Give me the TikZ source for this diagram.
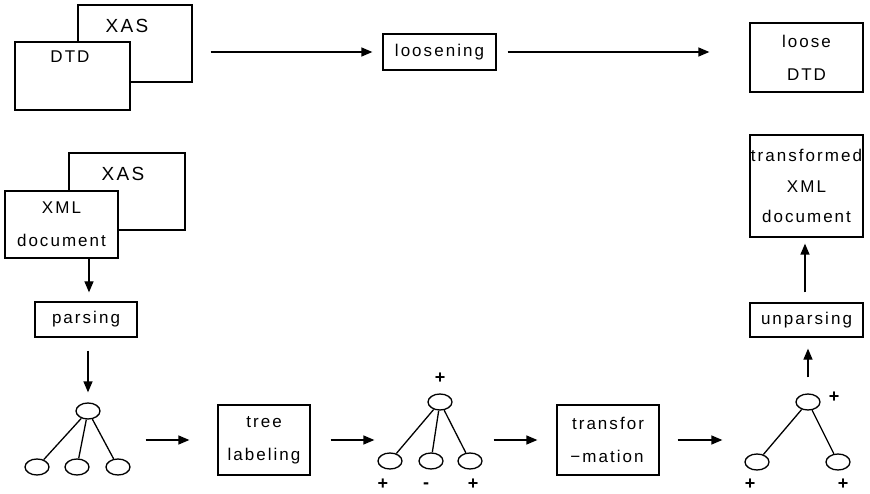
\documentclass[tikz,border=0pt]{standalone}
\usepackage{fontspec}
\setmainfont{Liberation Sans}[LetterSpace=12]
\usetikzlibrary{arrows.meta,shapes.geometric,calc}
\begin{document}
\begin{tikzpicture}[x=1pt,y=-1pt,
  box/.style={draw,line width=1.3pt,inner sep=0pt,align=center,font=\fontsize{17}{33}\selectfont},
  txt/.style={inner sep=0pt,font=\fontsize{17}{33}\selectfont},
  arr/.style={-{Triangle[length=11pt,width=9pt]},line width=1.3pt},
  nd/.style={draw,ellipse,line width=1.3pt,minimum width=24pt,minimum height=16pt,inner sep=0pt},
  edge/.style={line width=1.3pt},
  sg/.style={inner sep=0pt,font=\fontsize{18}{18}\selectfont\bfseries}]
\useasboundingbox (0,0) rectangle (870,494);
% top row
\node[box,minimum width=114pt,minimum height=77pt] (xasT) at (135,43.5) {};
\node[box,fill=white,minimum width=115pt,minimum height=68pt] (dtd) at (72.5,76) {};
\node[txt,font=\fontsize{19}{19}\selectfont] (xasTt) at (127,25.5) {XAS};
\node[txt] (dtdt) at (70,57) {DTD};
\node[box,minimum width=113pt,minimum height=36pt] (loos) at (439.5,52) {loosening};
\node[box,minimum width=113pt,minimum height=69pt] (ldtd) at (806.5,57.5) {loose\\DTD};
% lower left
\node[box,minimum width=116pt,minimum height=77pt] (xasB) at (127,191.5) {};
\node[box,fill=white,minimum width=113pt,minimum height=67pt] (xml) at (61.5,224.5) {XML\\document};
\node[txt,font=\fontsize{19}{19}\selectfont] (xasBt) at (123,174) {XAS};
\node[box,minimum width=102pt,minimum height=35pt] (pars) at (86,319.5) {parsing};
% bottom boxes
\node[box,minimum width=92pt,minimum height=70pt] (tlab) at (264,440) {tree\\labeling};
\node[box,minimum width=102pt,minimum height=70pt] (tran) at (608,440) {transfor\\\kern-2pt\textminus mation};
% right column
\node[box,minimum width=113pt,minimum height=34pt] (unp) at (806.5,320) {unparsing};
\node[box,minimum width=113pt,minimum height=102pt,font=\fontsize{17}{30.5}\selectfont] (txml) at (806.5,186) {transformed\\XML\\document};
% tree 1
\node[nd] (r1) at (88,411) {};
\node[nd] (l11) at (37,467) {};
\node[nd] (l12) at (77,467) {};
\node[nd] (l13) at (118,467) {};
\draw[edge] (r1) -- (l11);
\draw[edge] (r1) -- (l12);
\draw[edge] (r1) -- (l13);
% tree 2
\node[nd] (r2) at (440,402) {};
\node[nd] (l21) at (390,461) {};
\node[nd] (l22) at (431,461) {};
\node[nd] (l23) at (470,461) {};
\draw[edge] (r2) -- (l21);
\draw[edge] (r2) -- (l22);
\draw[edge] (r2) -- (l23);
\node[sg] (s2r) at (440,378) {+};
\node[sg] (s21) at (383,484) {+};
\node[sg] (s22) at (426,486) {-};
\node[sg] (s23) at (473,484) {+};
% tree 3
\node[nd] (r3) at (808,402) {};
\node[nd] (l31) at (757,462) {};
\node[nd] (l32) at (838,462) {};
\draw[edge] (r3) -- (l31);
\draw[edge] (r3) -- (l32);
\node[sg] (s3r) at (834,397) {+};
\node[sg] (s31) at (750,484) {+};
\node[sg] (s32) at (843,484) {+};
% arrows
\draw[arr] ($(xasT.east |- loos.west)+(18,0)$) -- ($(loos.west)+(-10,0)$);
\draw[arr] ($(loos.east)+(11,0)$) -- ($(ldtd.west |- loos.east)+(-40,0)$);
\draw[arr] ($(pars.north |- xml.south)+(3,0)$) -- ($(pars.north)+(3,-9)$);
\draw[arr] ($(r1.north |- pars.south)+(0,13)$) -- ($(r1.north)+(0,-10)$);
\draw[arr] ($(l13.east |- tlab.west)+(15,0)$) -- ($(tlab.west)+(-28,0)$);
\draw[arr] ($(tlab.east)+(20,0)$) -- ($(l21.west |- tlab.west)+(-3,0)$);
\draw[arr] ($(l23.east |- tran.west)+(11,0)$) -- ($(tran.west)+(-19,0)$);
\draw[arr] ($(tran.east)+(18,0)$) -- ($(l31.west |- tran.east)+(-22,0)$);
\draw[arr] ($(r3.north)+(0,-16)$) -- ($(r3.north |- unp.south)+(0,11)$);
\draw[arr] ($(unp.north)+(-1.5,-10)$) -- ($(txml.south)+(-1.5,6)$);
\end{tikzpicture}
\end{document}
